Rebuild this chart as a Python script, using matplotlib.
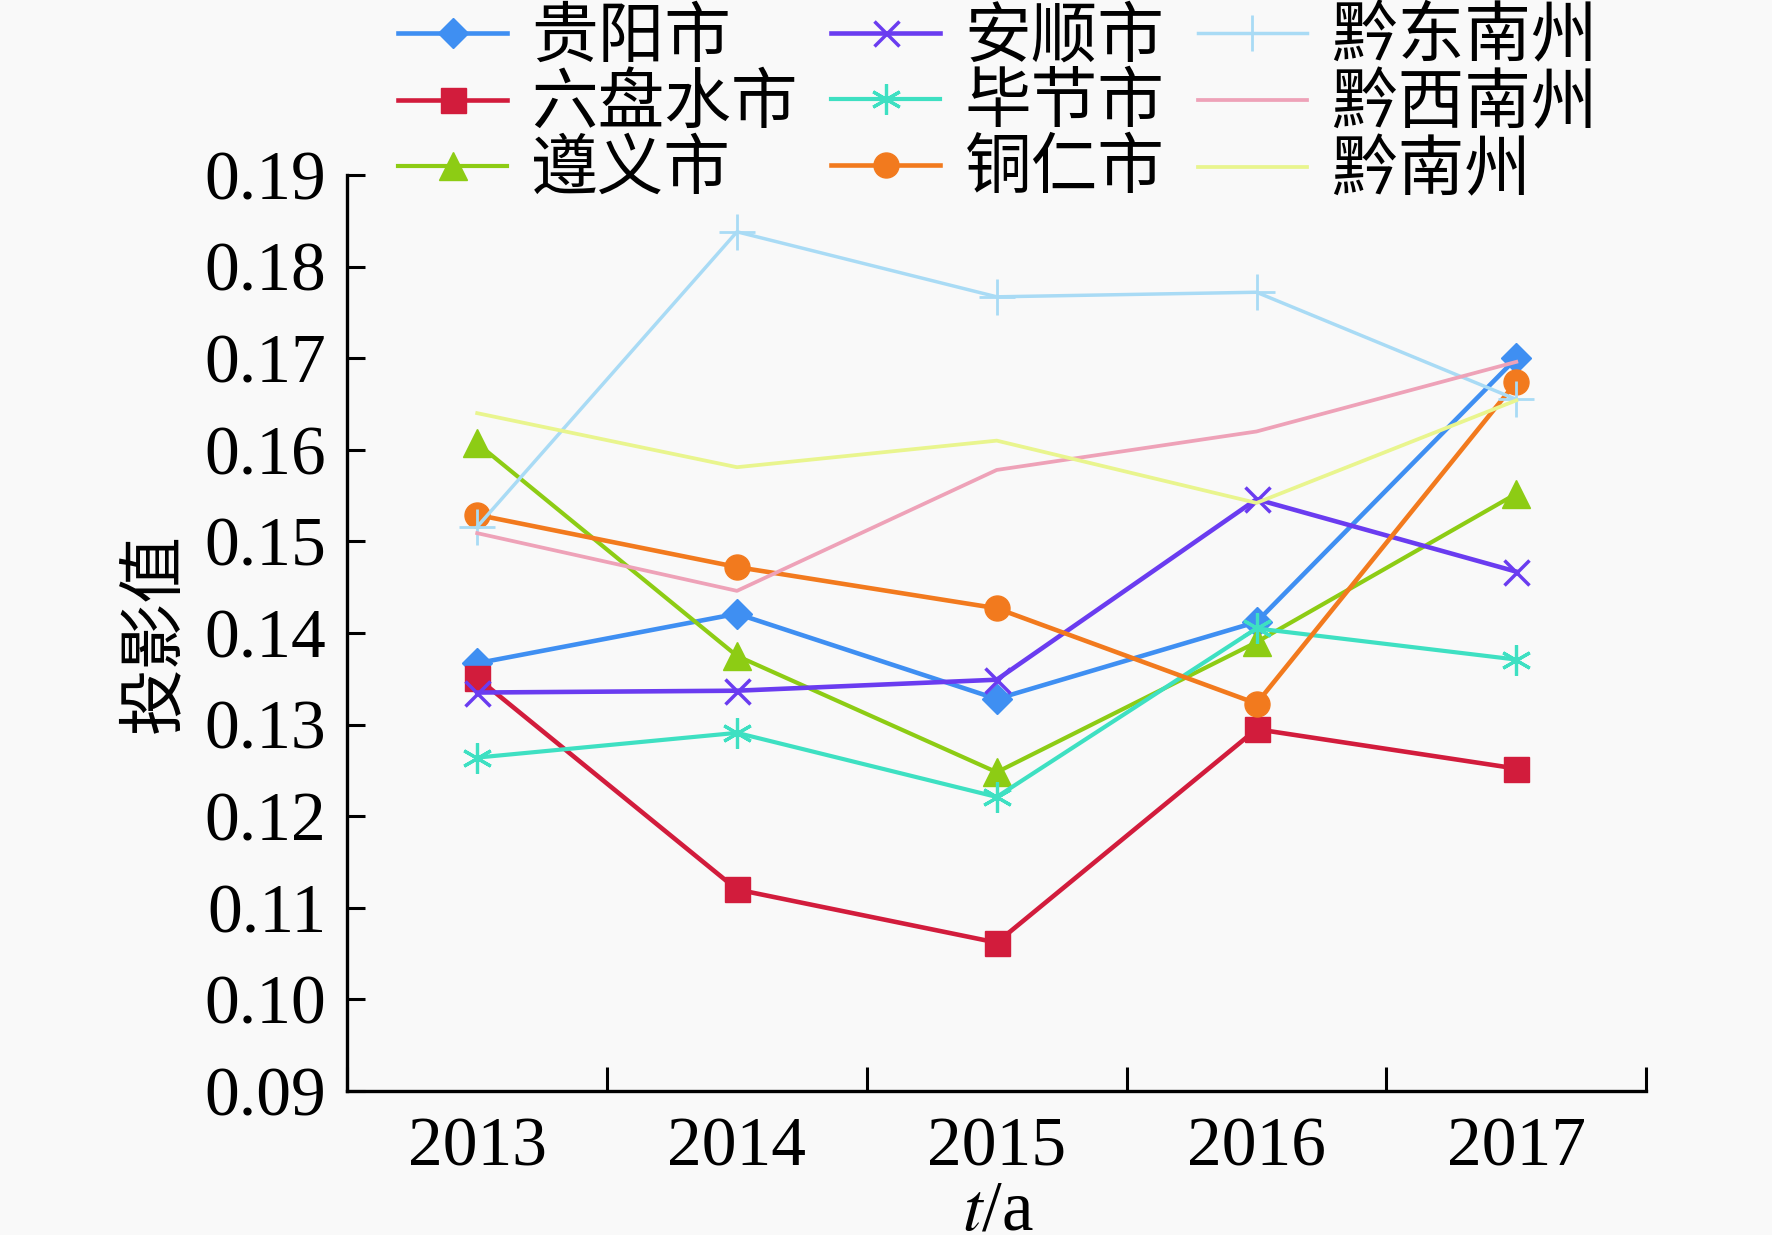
import matplotlib
matplotlib.use("Agg")
import matplotlib.pyplot as plt
import numpy as np

years = [2013, 2014, 2015, 2016, 2017]
names = ["贵阳市", "六盘水市", "遵义市", "安顺市", "毕节市", "铜仁市", "黔东南州", "黔西南州", "黔南州"]
guiyang = [0.1367, 0.1421, 0.1328, 0.1412, 0.1700]
liupanshui = [0.1351, 0.1120, 0.1062, 0.1295, 0.1252]
zunyi = [0.1607, 0.1375, 0.1248, 0.1390, 0.1552]
anshun = [0.1335, 0.1337, 0.1349, 0.1546, 0.1467]
bijie = [0.1264, 0.1291, 0.1221, 0.1405, 0.1371]
tongren = [0.1529, 0.1472, 0.1427, 0.1323, 0.1674]
qiandongnan = [0.1516, 0.1838, 0.1767, 0.1772, 0.1655]
qianxinan = [0.1509, 0.1446, 0.1578, 0.1620, 0.1696]
qiannan = [0.1640, 0.1581, 0.1610, 0.1542, 0.1654]
series = [guiyang, liupanshui, zunyi, anshun, bijie, tongren, qiandongnan, qianxinan, qiannan]
yticks = [0.09, 0.10, 0.11, 0.12, 0.13, 0.14, 0.15, 0.16, 0.17, 0.18, 0.19]

colors = ["#3f8ff2", "#d21c3c", "#8dcc14", "#6a3cf0", "#3ee0c2", "#f27a1e", "#a9dbf5", "#eea2b8", "#e9f58e"]
markers = ["D", "s", "^", "x", (6, 2, 0), "o", "+", None, None]
msizes = [15, 18, 20, 18, 22, 18, 26, 0, 0]
lws = [3.3, 3.3, 3.0, 3.3, 3.0, 3.3, 2.5, 2.7, 2.7]
mews = [1, 1, 1, 2.5, 2.3, 1, 2.0, 1, 1]

serif = "Liberation Serif"
cjk = "Noto Sans CJK SC"
plt.rcParams['mathtext.fontset'] = 'stix'

fig = plt.figure(figsize=(17.72, 12.35), dpi=100, facecolor="#f9f9f9")
ax = fig.add_axes([0.196, 0.1166, 0.733, 0.7417])
ax.set_facecolor("#f9f9f9")

for vals, name, c, m, ms, lw, mew in zip(series, names, colors, markers, msizes, lws, mews):
    ax.plot(years, vals, color=c, marker=m, markersize=ms, lw=lw, mew=mew,
            label=name, clip_on=False, zorder=3)

ax.set_xlim(2012.5, 2017.5)
ax.set_ylim(0.09, 0.19)
ax.set_yticks(yticks)
ax.set_yticklabels([f"{v:.2f}" for v in yticks], fontfamily=serif, fontsize=50)
ax.set_xticks([2012.5, 2013.5, 2014.5, 2015.5, 2016.5, 2017.5])
ax.set_xticklabels([])
ax.set_xticks(years, minor=True)
ax.set_xticklabels([str(y) for y in years], minor=True, fontfamily=serif, fontsize=50)
ax.tick_params(axis='x', which='minor', length=0, pad=19)
ax.tick_params(axis='x', which='major', direction='in', length=17, width=2.2)
ax.tick_params(axis='y', direction='in', length=13, width=2.2, pad=15)
for s in ["top", "right"]:
    ax.spines[s].set_visible(False)
for s in ["left", "bottom"]:
    ax.spines[s].set_linewidth(2.4)

fig.text(0.087, 0.4875, "投影值", rotation=90, fontfamily=cjk, fontsize=48,
         ha="center", va="center")
fig.text(0.563, 0.019, r"$\mathit{t}$/a", fontfamily=serif, fontsize=51,
         ha="center", va="center")

leg = fig.legend(loc="upper left", bbox_to_anchor=(0.2095, 1.015), ncol=3, frameon=False,
                 prop={"family": [serif, cjk], "size": 48}, handlelength=1.64,
                 handletextpad=0.36, columnspacing=0.5, labelspacing=0.07,
                 borderaxespad=0)

fig.savefig("out.png", dpi=100, facecolor=fig.get_facecolor())
